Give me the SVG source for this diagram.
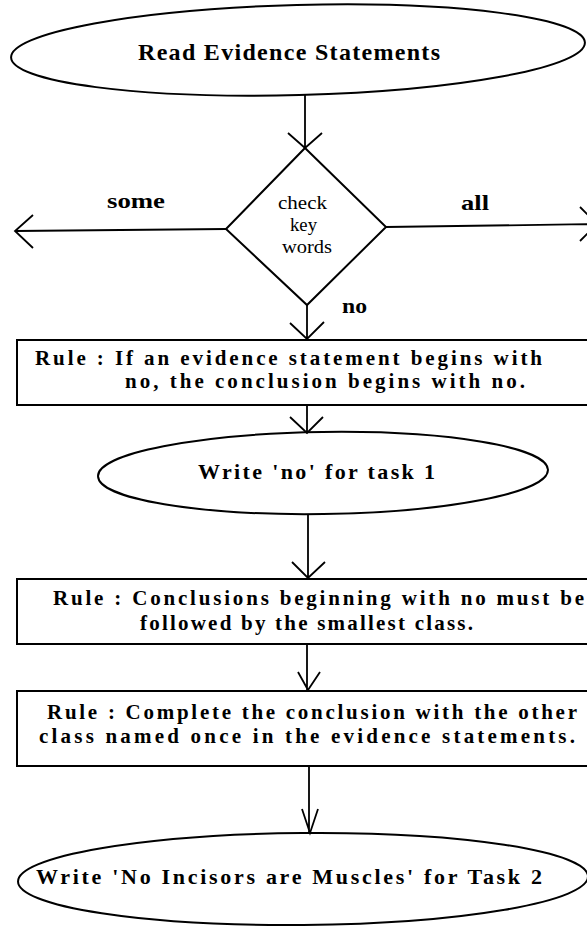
<svg xmlns="http://www.w3.org/2000/svg" width="587" height="926" viewBox="0 0 587 926">
<style>
.s{fill:none;stroke:#000;stroke-width:2}
.c{fill:none;stroke:#000;stroke-width:1.8}
.t{font-family:"Liberation Serif","Times New Roman",serif;font-weight:bold;fill:#000}
.r{font-size:21px}
.e{font-size:22px}
.d{font-family:"Liberation Serif","Times New Roman",serif;font-size:18px;fill:#000}
</style>
<rect width="587" height="926" fill="#fff"/>
<g id="connectors">
<path class="c" d="M305 95V148M288 133L305 148L322 133"/>
<path class="c" d="M226 229L15 231M33 215L15 231L33 248"/>
<path class="c" d="M386 227L600 224M580 207L597 224L580 241"/>
<path class="c" d="M307 305V339M290 323L307 339L324 322"/>
<path class="c" d="M307 405V433M290 417L307 433L323 417"/>
<path class="c" d="M308 515V578M292 562L308 578L325 562"/>
<path class="c" d="M307 644V690M298 672L308 690L320 672"/>
<path class="c" d="M309 766V833M302 809L310 833L318 809"/>
</g>
<g id="labels">
<text class="t" font-size="21" x="107" y="208" textLength="58" lengthAdjust="spacingAndGlyphs">some</text>
<text class="t" font-size="21" x="461" y="210" textLength="28" lengthAdjust="spacingAndGlyphs">all</text>
<text class="t" font-size="21" x="342" y="313" textLength="25" lengthAdjust="spacingAndGlyphs">no</text>
</g>
<g id="start">
<ellipse class="s" cx="298" cy="50" rx="287" ry="45" transform="rotate(-1.5 298 50)"/>
<text class="t" font-size="24" x="138" y="60" textLength="302">Read Evidence Statements</text>
</g>
<g id="decision">
<path class="s" d="M305 148L386 227L307 305L226 229Z"/>
<text class="d" x="278" y="209" textLength="49" lengthAdjust="spacingAndGlyphs">check</text>
<text class="d" x="290" y="231" textLength="27" lengthAdjust="spacingAndGlyphs">key</text>
<text class="d" x="282" y="253" textLength="50" lengthAdjust="spacingAndGlyphs">words</text>
</g>
<g id="rule1">
<rect class="s" x="17" y="340" width="600" height="65"/>
<text class="t r" x="35" y="365" textLength="507">Rule :  If an evidence statement begins with</text>
<text class="t r" x="125" y="388" textLength="400">no, the conclusion begins with no.</text>
</g>
<g id="write-no">
<ellipse class="s" cx="323" cy="473" rx="225" ry="41" transform="rotate(-0.8 323 473)"/>
<text class="t e" x="198" y="479" textLength="237">Write 'no' for task 1</text>
</g>
<g id="rule2">
<rect class="s" x="17" y="579" width="600" height="65"/>
<text class="t r" x="53" y="605" textLength="531">Rule : Conclusions beginning with no must be</text>
<text class="t r" x="140" y="630" textLength="333">followed by the smallest class.</text>
</g>
<g id="rule3">
<rect class="s" x="17" y="691" width="600" height="75"/>
<text class="t r" x="47" y="719" textLength="530">Rule :  Complete the conclusion with the other</text>
<text class="t r" x="39" y="743" textLength="536">class named once in the evidence statements.</text>
</g>
<g id="write-task2">
<ellipse class="s" cx="303" cy="879" rx="285" ry="46" transform="rotate(-0.5 303 879)"/>
<text class="t e" x="36" y="884" textLength="506">Write 'No Incisors are Muscles' for Task 2</text>
</g>
</svg>
